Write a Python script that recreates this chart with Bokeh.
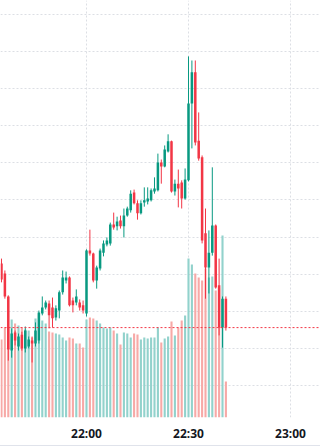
import pandas as pd
from bokeh.plotting import figure
from bokeh.models import ColumnDataSource, Range1d, FixedTicker, Span, Spacer
from bokeh.layouts import column
from bokeh.embed import file_html
from bokeh.resources import INLINE

# minutes relative to 22:00
minutes = list(range(-25, 42))
opens = [2032.9, 2030.2, 2024.0, 2009.4, 2014.3, 2010.5, 2013.7, 2010.0, 2010.5, 2012.1,
         2011.3, 2012.1, 2019.4, 2021.0, 2022.1, 2021.0, 2018.3, 2020.2, 2025.1, 2028.3,
         2029.1, 2022.9, 2022.4, 2022.4, 2021.6,
         2019.4, 2036.4, 2035.6, 2028.3, 2031.5, 2035.8, 2038.0, 2038.3, 2043.4, 2042.9,
         2044.5, 2042.9, 2045.8, 2047.2, 2052.0, 2049.1, 2046.4, 2049.3, 2049.6, 2049.9,
         2052.3, 2052.6, 2060.1, 2059.0, 2063.1, 2065.8, 2052.3, 2054.4, 2054.7, 2050.4,
         2055.3, 2076.0, 2084.4, 2066.0, 2061.5, 2041.0, 2031.8, 2035.8, 2043.1, 2027.0,
         2015.6, 2023.4]
highs = [2034.2, 2031.0, 2024.3, 2015.4, 2014.8, 2014.0, 2014.5, 2015.9, 2013.2, 2013.2,
         2017.0, 2020.2, 2024.0, 2022.9, 2022.9, 2023.7, 2021.6, 2025.6, 2031.0, 2030.7,
         2029.4, 2023.7, 2025.9, 2023.2, 2022.9,
         2036.7, 2042.0, 2035.8, 2032.3, 2036.9, 2039.1, 2039.9, 2043.9, 2046.6, 2045.5,
         2045.8, 2047.7, 2048.2, 2052.6, 2052.8, 2049.9, 2049.9, 2053.4, 2053.4, 2053.1,
         2056.1, 2062.5, 2060.9, 2064.7, 2067.7, 2066.0, 2055.5, 2058.2, 2055.3, 2058.5,
         2088.7, 2087.6, 2087.6, 2073.6, 2062.0, 2047.7, 2041.8, 2058.8, 2043.4, 2034.2,
         2024.0, 2024.0]
lows = [2027.8, 2023.4, 2006.7, 2007.5, 2010.8, 2009.4, 2009.4, 2008.9, 2010.0, 2006.2,
        2010.5, 2011.3, 2018.9, 2020.5, 2015.4, 2015.6, 2017.5, 2018.1, 2024.5, 2027.5,
        2021.3, 2019.7, 2021.6, 2020.2, 2019.4,
        2018.6, 2035.0, 2027.8, 2026.1, 2031.0, 2034.8, 2037.5, 2037.7, 2042.0, 2041.8,
        2042.3, 2039.9, 2045.5, 2046.6, 2048.8, 2044.7, 2046.1, 2048.2, 2048.8, 2049.6,
        2051.7, 2052.3, 2054.4, 2058.8, 2062.8, 2052.0, 2051.2, 2048.0, 2047.7, 2050.1,
        2055.0, 2063.9, 2064.7, 2060.6, 2038.3, 2023.4, 2024.8, 2035.0, 2026.1, 2013.5,
        2010.2, 2014.8]
closes = [2028.6, 2024.0, 2009.7, 2014.0, 2012.1, 2013.2, 2010.0, 2014.8, 2012.4, 2011.3,
          2014.8, 2019.7, 2021.0, 2022.4, 2018.9, 2018.1, 2020.8, 2025.1, 2029.1, 2029.1,
          2021.6, 2021.6, 2024.0, 2021.0, 2020.2,
          2036.4, 2035.6, 2028.3, 2031.8, 2036.4, 2038.3, 2039.1, 2043.4, 2042.6, 2044.2,
          2042.9, 2045.8, 2047.7, 2051.7, 2049.1, 2046.4, 2049.1, 2049.9, 2050.4, 2052.6,
          2053.1, 2060.1, 2059.0, 2063.6, 2065.8, 2052.3, 2054.4, 2053.1, 2050.4, 2055.5,
          2076.0, 2084.4, 2065.5, 2061.2, 2039.1, 2031.8, 2035.8, 2043.1, 2026.4, 2015.6,
          2023.4, 2015.6]
volumes = [780, 900, 890, 980, 940, 920, 900, 880, 870, 800,
           990, 1040, 970, 940, 860, 850, 840, 830, 800, 770,
           800, 790, 740, 740, 700,
           980, 1000, 990, 970, 940, 900, 890, 900, 870, 840,
           730, 850, 840, 800, 840, 830, 780, 800, 790, 800,
           800, 900, 750, 790, 810, 960, 820, 900, 970, 1020,
           1590, 1530, 1440, 1400, 1370, 1490, 1400, 1410, 1270, 1290,
           1820, 360]
tick_labels = ["22:00", "22:30", "23:00"]
tick_minutes = [0, 30, 60]
grid_prices = [2000, 2010, 2020, 2030, 2040, 2050, 2060, 2070, 2080, 2090, 2100]

UP, DOWN = "#089981", "#f23645"
UP_VOL, DOWN_VOL = "#92d2cc", "#f7a9a7"

base = pd.Timestamp("2024-05-14 22:00")
times = base + pd.to_timedelta(minutes, unit="m")
up = [c >= o for o, c in zip(opens, closes)]
src = ColumnDataSource(dict(
    t=times,
    open=opens, high=highs, low=lows, close=closes, vol=volumes,
    top=[max(o, c) for o, c in zip(opens, closes)],
    bottom=[min(o, c) for o, c in zip(opens, closes)],
    color=[UP if u else DOWN for u in up],
    vcolor=[UP_VOL if u else DOWN_VOL for u in up],
))

minute_ms = 60000
p = figure(
    x_axis_type="datetime",
    x_range=Range1d(base - pd.Timedelta(minutes=25.29), base + pd.Timedelta(minutes=68.82)),
    y_range=Range1d(1991.37, 2103.77),
    frame_width=320, frame_height=417,
    min_border_left=0, min_border_right=0, min_border_top=0, min_border_bottom=28,
    y_axis_location=None,
    toolbar_location=None, output_backend="svg",
    background_fill_color="white", border_fill_color="white",
)
p.outline_line_color = None
p.extra_y_ranges = {"vol": Range1d(0, 4170)}

p.vbar(x="t", top="vol", bottom=0, width=0.62 * minute_ms, source=src,
       fill_color="vcolor", line_color=None, y_range_name="vol")
p.segment(x0="t", x1="t", y0="low", y1="high", source=src, line_color="color", line_width=1)
p.vbar(x="t", top="top", bottom="bottom", width=0.74 * minute_ms, source=src,
       fill_color="color", line_color=None)

p.add_layout(Span(location=closes[-1], dimension="width", line_color=DOWN,
                  line_dash="2 2", line_width=1, line_alpha=1.0))

tick_ms = [int((base + pd.Timedelta(minutes=m)).value // 10**6) for m in tick_minutes]
ax = p.xaxis[0]
ax.ticker = FixedTicker(ticks=tick_ms)
ax.major_label_overrides = {ms: lab for ms, lab in zip(tick_ms, tick_labels)}
ax.axis_line_color = None
ax.major_tick_line_color = None
ax.minor_tick_line_color = None
ax.major_tick_out = 0
ax.major_tick_in = 0
ax.major_label_standoff = 7
ax.major_label_text_font = "Noto Sans"
ax.major_label_text_font_size = "12px"
ax.major_label_text_font_style = "bold"
ax.major_label_text_color = "#131722"

p.xgrid.grid_line_color = "#dcdfe4"
p.xgrid.grid_line_dash = "2 2"
p.ygrid.ticker = FixedTicker(ticks=grid_prices)
p.ygrid.grid_line_color = "#dcdfe4"
p.ygrid.grid_line_dash = "2 2"

bottom_line = Spacer(width=320, height=1, styles={"background-color": "#e0e3eb"})
layout = column(p, bottom_line, spacing=0)

open("out.html", "w").write(file_html(layout, INLINE))
